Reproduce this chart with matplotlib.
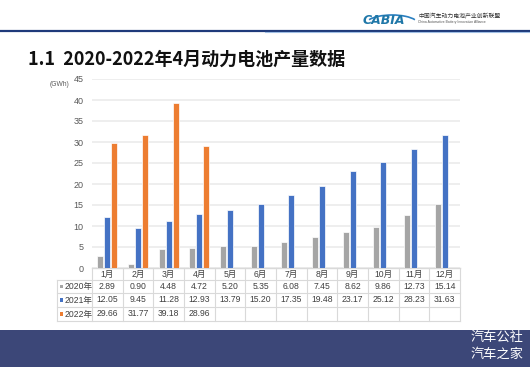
import matplotlib
matplotlib.use("Agg")
import matplotlib.pyplot as plt
from matplotlib.patches import Rectangle, Arc
from matplotlib.lines import Line2D
from matplotlib.transforms import blended_transform_factory
import numpy as np

plt.rcParams['font.family'] = ['Liberation Sans', 'Noto Sans CJK SC', 'DejaVu Sans']

months = ['1月', '2月', '3月', '4月', '5月', '6月', '7月', '8月', '9月', '10月', '11月', '12月']
series_names = ['2020年', '2021年', '2022年']
v2020 = [2.89, 0.90, 4.48, 4.72, 5.20, 5.35, 6.08, 7.45, 8.62, 9.86, 12.73, 15.14]
v2021 = [12.05, 9.45, 11.28, 12.93, 13.79, 15.20, 17.35, 19.48, 23.17, 25.12, 28.23, 31.63]
v2022 = [29.66, 31.77, 39.18, 28.96]
colors = ['#A5A5A5', '#4472C4', '#ED7D31']
yticks = [0, 5, 10, 15, 20, 25, 30, 35, 40, 45]

W, H = 530, 367
fig = plt.figure(figsize=(W / 100, H / 100), dpi=100)

def fx(px):
    return px / W

def fy(py):
    return 1 - py / H

# axes area
x0, x1, ytop, ybot = 92, 460, 79, 268
ax = fig.add_axes([fx(x0), fy(ybot), fx(x1 - x0), (ybot - ytop) / H])
ax.set_xlim(-0.5, 11.5)
ax.set_ylim(0, 45)
ax.set_yticks(yticks)
ax.set_yticklabels([str(t) for t in yticks], fontsize=6.5, color='#595959')
ax.tick_params(axis='y', length=0, pad=6)
ax.set_xticks([])
for s in ['top', 'right', 'left']:
    ax.spines[s].set_visible(False)
ax.spines['bottom'].set_color('#D9D9D9')
ax.spines['bottom'].set_linewidth(1)
ax.grid(axis='y', color='#EBEBEB', linewidth=1.2)
ax.set_axisbelow(True)

x = np.arange(len(months))
off = 0.23
bw = 0.19
all_vals = [v2020, v2021, v2022]
for k, (vals, c) in enumerate(zip(all_vals, colors)):
    xs = x[:len(vals)] + (k - 1) * off
    ax.bar(xs, vals, width=bw, color=c, edgecolor='white', linewidth=0.5, zorder=3)

fig.text(fx(59), fy(84), '(GWh)', fontsize=4.8, color='#595959', ha='center', va='center')

# data table
ph = ybot - ytop
def ay(py):
    return (ybot - py) / ph

tr = blended_transform_factory(ax.transData, ax.transAxes)
tra = ax.transAxes
grid_c = '#D9D9D9'
rows_y = [268, 280, 293, 307, 321]
for py in rows_y[1:]:
    ax.add_line(Line2D([(57 - x0) / (x1 - x0), 1], [ay(py), ay(py)], transform=tra,
                       color=grid_c, lw=0.8, clip_on=False))
for b in np.arange(-0.5, 12, 1.0):
    ax.add_line(Line2D([b, b], [ay(268), ay(321)], transform=tr, color=grid_c, lw=0.8, clip_on=False))
ax.add_line(Line2D([(57 - x0) / (x1 - x0)] * 2, [ay(280), ay(321)], transform=tra,
                   color=grid_c, lw=0.8, clip_on=False))

tc = '#404040'
fs_t = 6.2
for i, m in enumerate(months):
    ax.text(i, ay(274.5), m, transform=tr, ha='center', va='center', fontsize=fs_t, color=tc)
for r, vals in enumerate(all_vals):
    yc = ay((rows_y[r + 1] + rows_y[r + 2]) / 2)
    for i, v in enumerate(vals):
        ax.text(i, yc, f'{v:.2f}', transform=tr, ha='center', va='center', fontsize=fs_t, color=tc)
    ax.add_patch(Rectangle(((59.5 - x0) / (x1 - x0), yc - 1.8 / ph), 3.6 / (x1 - x0), 3.6 / ph,
                           transform=tra, color=colors[r], clip_on=False, lw=0))
    ax.text((64.5 - x0) / (x1 - x0), yc, series_names[r], transform=tra, ha='left', va='center',
            fontsize=fs_t, color=tc)

# title
fig.text(fx(28), fy(59), '1.1  2020-2022年4月动力电池产量数据', fontsize=13, fontweight='bold',
         family=['Noto Sans CJK SC', 'DejaVu Sans'], color='#111111', ha='left', va='center')

# header line
fig.add_artist(Line2D([0, 1], [fy(30.5), fy(30.5)], color='#1F3A7A', lw=1.6))
fig.add_artist(Line2D([0.5, 1], [fy(32.2), fy(32.2)], color='#8DB4E2', lw=0.8, alpha=0.8))

# logo
fig.text(fx(384), fy(20.5), 'CABIA', fontsize=9, fontweight='bold', style='italic',
         color='#1F77A8', ha='center', va='center', family='DejaVu Sans')
fig.add_artist(Arc((fx(392), fy(24)), fx(52), 18 / H, theta1=15, theta2=165,
                   color='#2A7FC0', lw=1.2, transform=fig.transFigure))
fig.text(fx(418), fy(16.5), '中国汽车动力电池产业创新联盟', fontsize=4.2, color='#333333',
         ha='left', va='center', family=['Noto Sans CJK SC'])
fig.text(fx(418), fy(22), 'China Automotive Battery Innovation Alliance', fontsize=2.4,
         color='#555555', ha='left', va='center')

# footer
fig.add_artist(Rectangle((0, 0), 1, fy(330), transform=fig.transFigure, color='#3C4778', lw=0))
fig.text(fx(524), fy(337.5), '汽车公社', fontsize=9.5, color='white', ha='right', va='center',
         family=['Noto Sans CJK SC'])
fig.text(fx(524), fy(354.5), '汽车之家', fontsize=9.5, color='white', ha='right', va='center',
         family=['Noto Sans CJK SC'])

fig.savefig('out.png', dpi=100)
